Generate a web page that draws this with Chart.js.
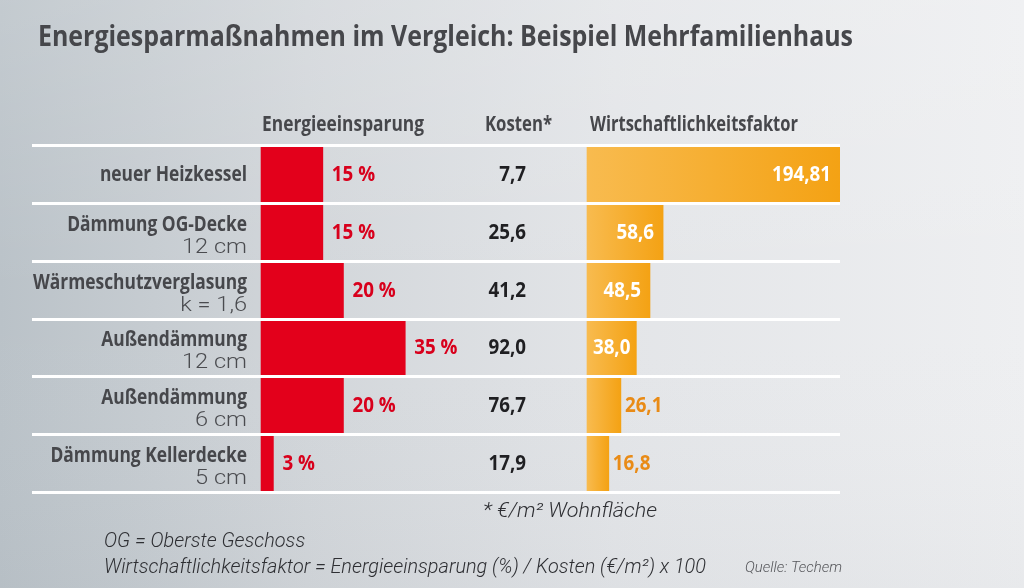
<!DOCTYPE html>
<html>
<head>
<meta charset="utf-8">
<script src="https://cdn.jsdelivr.net/npm/chart.js@4/dist/chart.umd.min.js"></script>
<style>
html,body{margin:0;padding:0;background:#dfe2e5;}
#wrap{width:1024px;height:588px;}
</style>
</head>
<body>
<div id="wrap"><canvas id="c" width="1024" height="588"></canvas></div>
<script>
// ---- data ----
const title = 'Energiesparmaßnahmen im Vergleich: Beispiel Mehrfamilienhaus';
const columnHeaders = ['Energieeinsparung', 'Kosten*', 'Wirtschaftlichkeitsfaktor'];
const categories = ['neuer Heizkessel', 'Dämmung OG-Decke', 'Wärmeschutzverglasung', 'Außendämmung', 'Außendämmung', 'Dämmung Kellerdecke'];
const subLabels = ['', '12 cm', 'k = 1,6', '12 cm', '6 cm', '5 cm'];
const energySavings = [15, 15, 20, 35, 20, 3];          // %
const costs = [7.7, 25.6, 41.2, 92.0, 76.7, 17.9];       // €/m²
const efficiency = [194.81, 58.6, 48.5, 38.0, 26.1, 16.8];
const costNote = '* €/m² Wohnfläche';
const footnotes = ['OG = Oberste Geschoss', 'Wirtschaftlichkeitsfaktor = Energieeinsparung (%) / Kosten (€/m²) x 100'];
const source = 'Quelle: Techem';

const BOLD = "'Open Sans', 'DejaVu Sans', sans-serif";
const LIGHT = "Roboto, 'Open Sans', sans-serif";

function fmt(v) {
  let s = String(v);
  if (s.indexOf('.') < 0) s += '.0';
  return s.replace('.', ',');
}

function txt(ctx, s, x, y, font, color, align, sx) {
  ctx.save();
  ctx.font = font;
  ctx.fillStyle = color;
  ctx.textBaseline = 'alphabetic';
  ctx.textAlign = align || 'left';
  ctx.translate(x, y);
  ctx.scale(sx, 1);
  ctx.fillText(s, 0, 0);
  ctx.restore();
}
function widthOf(ctx, s, font) { ctx.save(); ctx.font = font; const w = ctx.measureText(s).width; ctx.restore(); return w; }

const bgPlugin = {
  id: 'bg',
  beforeDraw(chart) {
    const ctx = chart.ctx, W = chart.width, H = chart.height;
    ctx.save();
    const g = ctx.createLinearGradient(0, 0, W, 0);
    g.addColorStop(0, '#bac2c8');
    g.addColorStop(0.3, '#d2d6da');
    g.addColorStop(0.6, '#e3e5e8');
    g.addColorStop(1, '#eeeff1');
    ctx.fillStyle = g;
    ctx.fillRect(0, 0, W, H);
    const v = ctx.createLinearGradient(0, 0, 0, H);
    v.addColorStop(0, 'rgba(255,255,255,0.14)');
    v.addColorStop(0.5, 'rgba(255,255,255,0.0)');
    v.addColorStop(1, 'rgba(120,130,140,0.05)');
    ctx.fillStyle = v;
    ctx.fillRect(0, 0, W, H);
    ctx.restore();
  }
};

const decoPlugin = {
  id: 'deco',
  afterDatasetsDraw(chart) {
    const ctx = chart.ctx;
    const area = chart.chartArea;
    const ys = chart.scales.y;
    const xs = chart.scales.x;
    const x2 = chart.scales.x2;
    const n = categories.length;
    const band = (area.bottom - area.top) / n;

    // white separators
    ctx.save();
    ctx.strokeStyle = '#ffffff';
    ctx.lineWidth = 3;
    for (let i = 0; i <= n; i++) {
      const y = Math.round(area.top + i * band) + 0.5;
      ctx.beginPath();
      ctx.moveTo(area.left, y);
      ctx.lineTo(area.right, y);
      ctx.stroke();
    }
    ctx.restore();

    const fB = 'bold 21px ' + BOLD;
    const sxB = 214 / widthOf(ctx, 'Wärmeschutzverglasung', fB);
    const sxN = sxB * 1.08;
    const fSub = '300 21px ' + LIGHT;
    const sxSub = 65 / widthOf(ctx, '12 cm', fSub);

    // title
    const fT = 'bold 28px ' + BOLD;
    txt(ctx, title, 38, 46, fT, '#46474b', 'left', 815 / widthOf(ctx, title, fT));

    // headers
    const hx = [xs.getPixelForValue(0) + 1, 485, x2.getPixelForValue(0) + 3];
    const hw = [162, 67, 208];
    columnHeaders.forEach((h, k) => txt(ctx, h, hx[k], 131, fB, '#46474b', 'left', hw[k] / widthOf(ctx, h, fB)));

    const m0 = chart.getDatasetMeta(0).data;
    const m1 = chart.getDatasetMeta(1).data;
    for (let i = 0; i < n; i++) {
      const cy = ys.getPixelForValue(i);
      // row labels
      if (subLabels[i]) {
        txt(ctx, categories[i], 247, cy - 1, fB, '#46474b', 'right', sxB);
        txt(ctx, subLabels[i], 247, cy + 21, fSub, '#4a4b4f', 'right', sxSub);
      } else {
        txt(ctx, categories[i], 247, cy + 7, fB, '#46474b', 'right', sxB);
      }
      // energy value labels
      const b0 = m0[i];
      txt(ctx, energySavings[i] + ' %', b0.x + 9, cy + 7, fB, '#d8001c', 'left', sxN);
      // costs
      txt(ctx, fmt(costs[i]), 526, cy + 7, fB, '#1f1f22', 'right', sxN);
      // efficiency labels
      const b1 = m1[i];
      const lab = fmt(efficiency[i]);
      const tw = widthOf(ctx, lab, fB) * sxN;
      const bw = b1.x - b1.base;
      if (bw >= tw + 6) {
        const pad = Math.min(9, Math.max(3, (bw - tw) / 2));
        txt(ctx, lab, b1.x - pad, cy + 7, fB, '#ffffff', 'right', sxN);
      } else {
        txt(ctx, lab, b1.x + 4, cy + 7, fB, '#e98b16', 'left', sxN);
      }
    }

    // notes
    const fL = 'italic 300 20px ' + LIGHT;
    txt(ctx, costNote, 483, 517, fL, '#2e2f33', 'left', 174 / widthOf(ctx, costNote, fL));
    const sxL = 602 / widthOf(ctx, footnotes[1], fL);
    txt(ctx, footnotes[0], 104, 547, fL, '#2e2f33', 'left', sxL);
    txt(ctx, footnotes[1], 104, 573, fL, '#2e2f33', 'left', sxL);
    const fS = 'italic 300 15px ' + LIGHT;
    txt(ctx, source, 745, 572, fS, '#55565a', 'left', 97 / widthOf(ctx, source, fS));
  }
};

function orangeFill(c) {
  const chart = c.chart;
  if (!chart.chartArea || !chart.scales.x2) return '#f5ab2c';
  const s = chart.scales.x2;
  const a = s.getPixelForValue(0), b = s.getPixelForValue(c.raw);
  const g = chart.ctx.createLinearGradient(a, 0, Math.max(b, a + 1), 0);
  g.addColorStop(0, '#f8bb4f');
  g.addColorStop(1, '#f4a214');
  return g;
}

new Chart(document.getElementById('c'), {
  type: 'bar',
  data: {
    labels: categories.map((c, i) => [c, subLabels[i]]),
    datasets: [
      { label: 'Energieeinsparung', data: energySavings, xAxisID: 'x', backgroundColor: '#e3001b', grouped: false, barPercentage: 1, categoryPercentage: 1, borderWidth: 0 },
      { label: 'Wirtschaftlichkeitsfaktor', data: efficiency, xAxisID: 'x2', backgroundColor: orangeFill, grouped: false, barPercentage: 1, categoryPercentage: 1, borderWidth: 0 }
    ]
  },
  options: {
    indexAxis: 'y',
    responsive: false,
    animation: false,
    devicePixelRatio: 1,
    layout: { padding: { left: 32, right: 184, top: 145, bottom: 96 } },
    plugins: { legend: { display: false }, tooltip: { enabled: false } },
    scales: {
      y: { type: 'category', display: false, offset: true },
      x: { type: 'linear', display: false, min: -55.58, max: 140.5 },
      x2: { type: 'linear', display: false, min: -427.35, max: 194.81 }
    }
  },
  plugins: [bgPlugin, decoPlugin]
});
</script>
</body>
</html>
